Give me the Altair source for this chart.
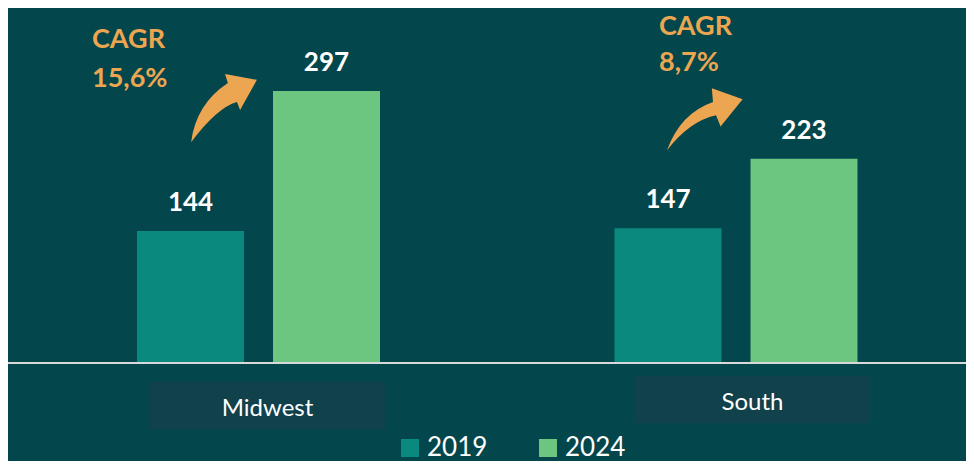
import altair as alt
import pandas as pd

# ---- data ----
regions = ["Midwest", "South"]
years = ["2019", "2024"]
values_2019 = [144, 147]
values_2024 = [297, 223]
cagr_labels = ["15,6%", "8,7%"]

# ---- styles ----
BG = "#03464b"
BOX = "#11414a"
C2019 = "#0a8a7e"
C2024 = "#6dc680"
ORANGE = "#eca651"
FONT = "Lato"

bars_df = pd.DataFrame({
    "region": regions * 2,
    "year": [years[0]] * len(regions) + [years[1]] * len(regions),
    "value": values_2019 + values_2024,
})
anno_df = pd.DataFrame({
    "region": regions,
    "cagr": ["CAGR\n" + c for c in cagr_labels],
})

W, H = 958, 453

x_scale = alt.Scale(domain=regions, range=[11.75, 966.75], paddingInner=0, paddingOuter=0)
xo_scale = alt.Scale(domain=years, range=[117.25, 360.25], paddingInner=0.2132, paddingOuter=0)
y_scale = alt.Scale(domain=[0, 387.6], range=[355, 0])

X = alt.X("region:N", scale=x_scale, axis=None, sort=regions)
XO = alt.XOffset("year:N", scale=xo_scale, sort=years)
Y = alt.Y("value:Q", scale=y_scale, axis=None)

base = alt.Chart(bars_df)

bars = base.mark_bar().encode(
    x=X, xOffset=XO, y=Y,
    color=alt.Color(
        "year:N",
        scale=alt.Scale(domain=years, range=[C2019, C2024]),
        legend=alt.Legend(
            title=None, orient="none", legendX=389, legendY=427,
            direction="horizontal", symbolType="square", symbolSize=324,
            symbolStrokeWidth=0, symbolOpacity=1, labelFontSize=26,
            labelFont=FONT, labelColor="white", labelOffset=4,
            columnPadding=47, padding=0,
        ),
    ),
)

values = base.mark_text(
    font=FONT, fontSize=26, fontWeight="bold", color="white",
    baseline="alphabetic", align="center", dy=-20,
).encode(x=X, xOffset=XO, y=Y, text=alt.Text("value:Q"))

baseline = base.mark_rule(color="#d9d9d9", strokeWidth=2).encode(
    y=alt.value(355), x=alt.value(0), x2=alt.value(W),
)

ARROW_MW = "M -0.94 0.89 Q -0.8 -0.2 0.11 -0.8 L 0.03 -1.06 L 0.94 -0.89 L 0.46 -0.03 L 0.37 -0.26 Q -0.2 -0.1 -0.94 0.89 Z"
ARROW_S = "M -1 0.82 Q -0.65 -0.15 0.21 -0.45 L 0.18 -0.81 L 0.99 -0.52 L 0.41 0.2 L 0.29 -0.1 Q -0.4 0.05 -1 0.82 Z"

layout = {
    "Midwest": dict(box_dx=9, box_y=374, lab_y=408, arrow_dx=-34.5, arrow_y=103,
                    arrow=ARROW_MW, arrow_size=70 * 70, cagr_dx=-166.5, cagr_y=40, cagr_lh=39),
    "South": dict(box_dx=16.5, box_y=368, lab_y=402, arrow_dx=-31, arrow_y=111,
                  arrow=ARROW_S, arrow_size=76 * 76, cagr_dx=-77, cagr_y=27, cagr_lh=36),
}

layers = [bars, values, baseline]
abase = alt.Chart(anno_df)
for r in regions:
    L = layout[r]
    flt = alt.datum.region == r
    box = abase.mark_bar(width=235, color=BOX, xOffset=L["box_dx"]).encode(
        x=X, y=alt.value(L["box_y"]), y2=alt.value(L["box_y"] + 47),
    ).transform_filter(flt)
    lab = abase.mark_text(
        font=FONT, fontSize=24, color="white", baseline="alphabetic",
        align="center", xOffset=L["box_dx"],
    ).encode(x=X, y=alt.value(L["lab_y"]), text="region:N").transform_filter(flt)
    arrow = abase.mark_point(
        shape=L["arrow"], size=L["arrow_size"], filled=True, opacity=1,
        color=ORANGE, strokeWidth=0, xOffset=L["arrow_dx"],
    ).encode(x=X, y=alt.value(L["arrow_y"])).transform_filter(flt)
    cagr = abase.mark_text(
        font=FONT, fontSize=27, fontWeight="bold", color=ORANGE,
        baseline="alphabetic", align="left", lineBreak="\n", lineHeight=L["cagr_lh"],
        xOffset=L["cagr_dx"],
    ).encode(x=X, y=alt.value(L["cagr_y"]), text="cagr:N").transform_filter(flt)
    layers += [box, lab, arrow, cagr]

chart = alt.layer(*layers).properties(
    width=W, height=H, padding=0, autosize=alt.AutoSizeParams(type="none"),
    background=BG,
).configure_view(stroke=None)

chart.save("out.html", embed_options={"renderer": "svg", "actions": False})
